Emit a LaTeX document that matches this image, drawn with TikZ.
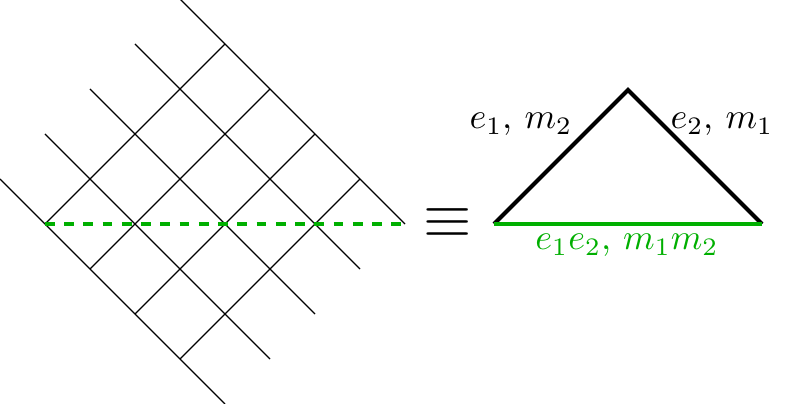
\documentclass[tikz,border=0pt]{standalone}
\definecolor{grn}{RGB}{0,175,0}
\begin{document}
\begin{tikzpicture}[x=0.278pt,y=-0.278pt,
  gridline/.style={line width=0.38pt},
  cutline/.style={grn,line width=1.05pt,dash pattern=on 2.7pt off 2.65pt},
  edgeline/.style={line width=1.1pt},
  baseedge/.style={grn,line width=1.05pt},
  lab/.style={anchor=base,inner sep=0pt}]
\useasboundingbox (0,0) rectangle (789,404);
% lattice lines
\foreach \j in {0,...,4}
  \draw[gridline] ({45*\j},{179-45*\j}) -- ({225+45*\j},{404-45*\j});
\foreach \i in {0,...,3}
  \draw[gridline] ({45+45*\i},{224+45*\i}) -- ({225+45*\i},{44+45*\i});
\coordinate (L) at (45,224);
\coordinate (R) at (404,224);
\draw[cutline] (L) -- (R);
% equivalence sign
\node[inner sep=0pt] (eq) at (448,223) {\fontsize{16}{18}\selectfont$\equiv$};
% triangle
\coordinate (A) at (494,224);
\coordinate (B) at (628,90);
\coordinate (C) at (762,224);
\draw[edgeline] (A) -- (B) -- (C);
\draw[baseedge] (A) -- (C);
\node[lab] (l1) at (521,129) {$e_1$, $m_2$};
\node[lab] (l2) at (722,129) {$e_2$, $m_1$};
\node[lab,text=grn] (l3) at (627,250) {$e_1e_2$, $m_1m_2$};
\end{tikzpicture}
\end{document}
